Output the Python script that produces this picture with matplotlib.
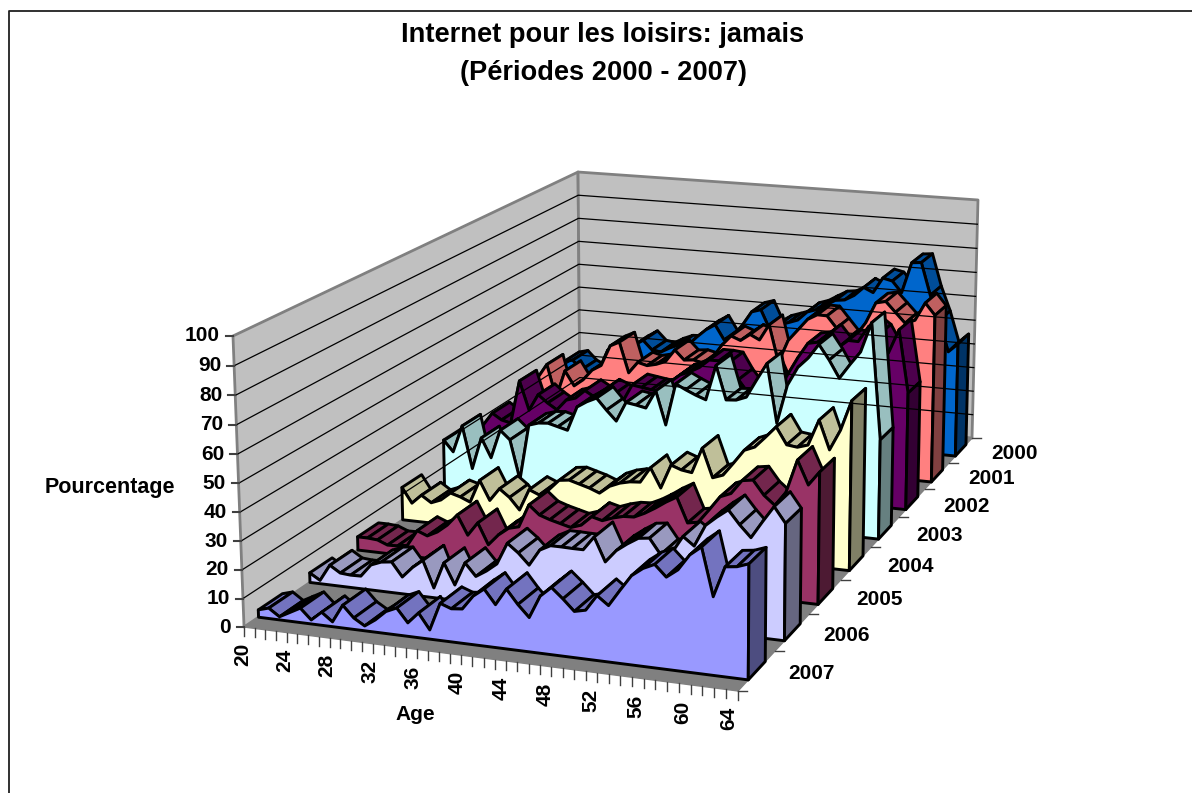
import numpy as np
import matplotlib
matplotlib.use('Agg')
import matplotlib.pyplot as plt
from matplotlib.patches import Polygon

plt.rcParams['font.family'] = ['Liberation Sans', 'DejaVu Sans']

ages = list(range(20, 65))
years = ['2007', '2006', '2005', '2004', '2003', '2002', '2001', '2000']
pourcent_ticks = list(range(0, 101, 10))

v2007 = [2.6, 3.7, 1.1, 3.1, 5.1, 1.4, 4.6, 1.7, 8.0, 4.0, 1.7, 4.3, 7.7, 9.4, 4.7,
         8.6, 3.2, 12.9, 11.5, 11.9, 16.8, 19.7, 14.8, 20.6, 15.8, 11.8, 19.6, 23.0, 19.6, 15.8,
         16.7, 22.1, 19.2, 24.8, 30.2, 33.1, 34.9, 31.1, 34.0, 39.4, 42.5, 26.4, 36.8, 37.3, 38.7]
v2006 = [3.5, 1.2, 7.2, 4.8, 4.5, 4.6, 9.1, 10.6, 11.1, 6.1, 10.0, 13.0, 3.5, 13.0, 5.5,
         13.9, 9.5, 11.9, 14.9, 22.7, 19.7, 15.8, 21.6, 23.6, 23.6, 23.5, 23.5, 28.4, 20.1, 24.5,
         27.3, 29.7, 30.2, 24.9, 25.9, 32.1, 29.2, 36.8, 40.1, 43.0, 38.3, 34.3, 40.2, 45.8, 40.5]
v2005 = [5.0, 5.0, 4.7, 3.2, 3.3, 4.0, 9.9, 8.4, 10.3, 13.3, 17.5, 10.4, 15.4, 7.7, 11.8,
         14.7, 15.7, 24.2, 20.9, 19.6, 18.6, 17.6, 18.9, 22.4, 21.4, 22.8, 23.8, 24.0, 25.8, 28.1,
         30.7, 32.9, 24.0, 24.7, 29.6, 34.7, 36.3, 41.3, 41.9, 36.9, 33.7, 38.8, 50.6, 42.2, 47.2]
v2004 = [12.6, 6.9, 10.4, 7.9, 9.4, 12.5, 11.4, 9.8, 18.6, 11.3, 16.2, 13.3, 8.9, 17.1, 15.5,
         18.0, 21.9, 22.4, 21.3, 20.2, 18.7, 21.7, 23.3, 24.2, 24.5, 30.3, 23.1, 32.1, 30.7, 30.1,
         39.6, 29.0, 30.4, 35.3, 40.4, 42.0, 46.0, 50.2, 44.0, 43.5, 44.7, 54.2, 43.7, 51.3, 62.4]
v2003 = [20.6, 16.3, 27.0, 10.4, 23.0, 15.5, 26.8, 23.4, 7.9, 30.0, 31.2, 31.5, 30.5, 29.5, 39.0,
         41.4, 43.2, 38.9, 35.0, 42.6, 42.0, 41.2, 48.2, 35.4, 51.6, 49.7, 48.0, 46.6, 60.1, 47.3,
         47.6, 49.1, 56.0, 62.6, 40.2, 55.1, 62.2, 66.1, 71.5, 66.0, 59.5, 65.0, 70.1, 81.3, 37.8]
v2002 = [16.5, 21.7, 19.3, 18.4, 36.0, 24.4, 31.1, 28.1, 25.7, 30.0, 31.2, 34.6, 32.4, 35.5, 34.0,
         31.6, 38.7, 38.1, 37.5, 37.1, 41.4, 44.5, 46.1, 48.2, 51.5, 51.5, 51.1, 44.8, 39.9, 43.5,
         49.6, 41.2, 48.6, 55.5, 61.5, 62.3, 65.5, 60.8, 64.0, 63.9, 70.0, 67.2, 60.5, 69.8, 45.7]
v2001 = [14.6, 17.5, 27.2, 33.0, 19.4, 31.0, 25.1, 28.0, 32.4, 34.7, 43.2, 45.1, 32.7, 37.4, 36.4,
         37.3, 38.8, 43.9, 40.1, 40.5, 39.6, 41.9, 47.5, 51.7, 50.2, 53.0, 51.1, 57.6, 42.6, 51.9,
         56.5, 61.1, 63.3, 63.2, 58.6, 54.1, 56.3, 61.8, 70.0, 70.9, 66.9, 62.9, 64.4, 71.6, 67.0]
v2000 = [13.7, 24.2, 25.2, 21.4, 19.5, 21.9, 30.9, 27.1, 27.4, 34.1, 36.5, 32.7, 32.2, 34.3, 35.9,
         36.1, 40.0, 43.4, 45.8, 39.7, 42.0, 46.7, 52.6, 53.8, 45.7, 48.1, 49.4, 50.8, 54.5, 55.8,
         58.1, 60.3, 60.8, 63.0, 66.6, 64.8, 71.1, 70.2, 65.7, 78.3, 78.7, 65.6, 55.6, 43.0, 46.6]
series = [v2007, v2006, v2005, v2004, v2003, v2002, v2001, v2000]

face_colors = ['#9999FF', '#CCCCFF', '#993366', '#FFFFCC', '#CCFFFF', '#660066', '#FF8080', '#0066CC']
top_colors = ['#7373BF', '#9999BF', '#73264D', '#BFBF99', '#99BFBF', '#4D004D', '#BF6060', '#004D99']
side_colors = ['#4D4D80', '#666680', '#4D1A33', '#808066', '#668080', '#330033', '#804040', '#003366']

# box corners (age index, depth, value) -> where they sit in the picture
box_3d = np.array([[0, 0, 0], [44, 0, 0], [44, 8, 0], [0, 8, 0],
                   [0, 0, 100], [0, 8, 100], [44, 8, 100]], dtype=float)
box_px = np.array([[244, 627], [738, 691], [972, 438], [580, 400],
                   [233, 336], [578, 172], [978, 200]], dtype=float)


def fit_camera(pts, px):
    rows = []
    for (x, y, z), (u, v) in zip(pts, px):
        rows.append([x, y, z, 1, 0, 0, 0, 0, -u * x, -u * y, -u * z, -u])
        rows.append([0, 0, 0, 0, x, y, z, 1, -v * x, -v * y, -v * z, -v])
    return np.linalg.svd(np.array(rows))[2][-1].reshape(3, 4)


camera = fit_camera(box_3d, box_px)


def proj(x, d, z):
    p = camera @ np.array([x, d, z, 1.0])
    return p[0] / p[2], p[1] / p[2]


fig = plt.figure(figsize=(11.92, 7.93), dpi=100)
ax = fig.add_axes([0, 0, 1, 1])
ax.set_xlim(0, 1192)
ax.set_ylim(793, 0)
ax.axis('off')


def poly(points, fc, ec='black', lw=2.1):
    ax.add_patch(Polygon(points, closed=True, facecolor=fc, edgecolor=ec, linewidth=lw, joinstyle='round'))


# frame of the chart area, runs off the picture on the right and at the bottom
ax.plot([8.5, 8.5, 1200], [800, 11, 11], color='#202020', lw=1.3)

# walls and floor
xmax = len(ages) - 1
dmax = len(years)
poly([proj(0, 0, 0), proj(0, dmax, 0), proj(0, dmax, 100), proj(0, 0, 100)], '#C0C0C0', '#808080', 2)
poly([proj(0, dmax, 0), proj(xmax, dmax, 0), proj(xmax, dmax, 100), proj(0, dmax, 100)], '#C0C0C0', '#808080', 2)
poly([proj(0, 0, 0), proj(xmax, 0, 0), proj(xmax, dmax, 0), proj(0, dmax, 0)], '#808080', '#808080', 1)

for t in pourcent_ticks[1:-1]:
    ax.plot(*zip(proj(0, 0, t), proj(0, dmax, t), proj(xmax, dmax, t)), color='black', lw=0.9)

# age ticks and labels
for i, a in enumerate(ages):
    u, v = proj(i, 0, 0)
    ax.plot([u, u], [v, v + 9], color='#404040', lw=1)
    if (a - 20) % 4 == 0:
        ax.text(u - 1 - 8 * i / xmax, v + 16, str(a), rotation=90, ha='center', va='top',
                fontsize=15, fontweight='bold')

# value ticks
for t in pourcent_ticks:
    u, v = proj(0, 0, t)
    ax.plot([u - 7, u], [v, v], color='#404040', lw=1.5)
    ax.text(u - 13, v, str(t), ha='right', va='center', fontsize=15, fontweight='bold')

# depth ticks
for k in range(dmax + 1):
    u, v = proj(xmax, k, 0)
    ax.plot([u, u + 9], [v, v], color='#404040', lw=1)
for k, y in enumerate(years):
    u, v = proj(xmax, k + 0.5, 0)
    ax.text(u + 31, v + 3, y, ha='left', va='center', fontsize=15, fontweight='bold')

# series, back to front
D0, D1 = 0.27, 0.73
for k in range(dmax - 1, -1, -1):
    vals = series[k]
    df, db = k + D0, k + D1
    for i in range(xmax):
        poly([proj(i, df, vals[i]), proj(i + 1, df, vals[i + 1]),
              proj(i + 1, db, vals[i + 1]), proj(i, db, vals[i])], top_colors[k])
    front = [proj(0, df, 0)] + [proj(i, df, vals[i]) for i in range(xmax + 1)] + [proj(xmax, df, 0)]
    poly(front, face_colors[k])
    poly([proj(xmax, df, 0), proj(xmax, df, vals[-1]), proj(xmax, db, vals[-1]), proj(xmax, db, 0)], side_colors[k])

ax.text(603, 35, 'Internet pour les loisirs: jamais', ha='center', va='center', fontsize=19.6, fontweight='bold')
ax.text(603, 73, '(Périodes 2000 - 2007)', ha='center', va='center', fontsize=19.6, fontweight='bold')
ax.text(110, 487, 'Pourcentage', ha='center', va='center', fontsize=15.5, fontweight='bold')
ax.text(415, 714, 'Age', ha='center', va='center', fontsize=15, fontweight='bold')

fig.savefig('out.png', dpi=100)
